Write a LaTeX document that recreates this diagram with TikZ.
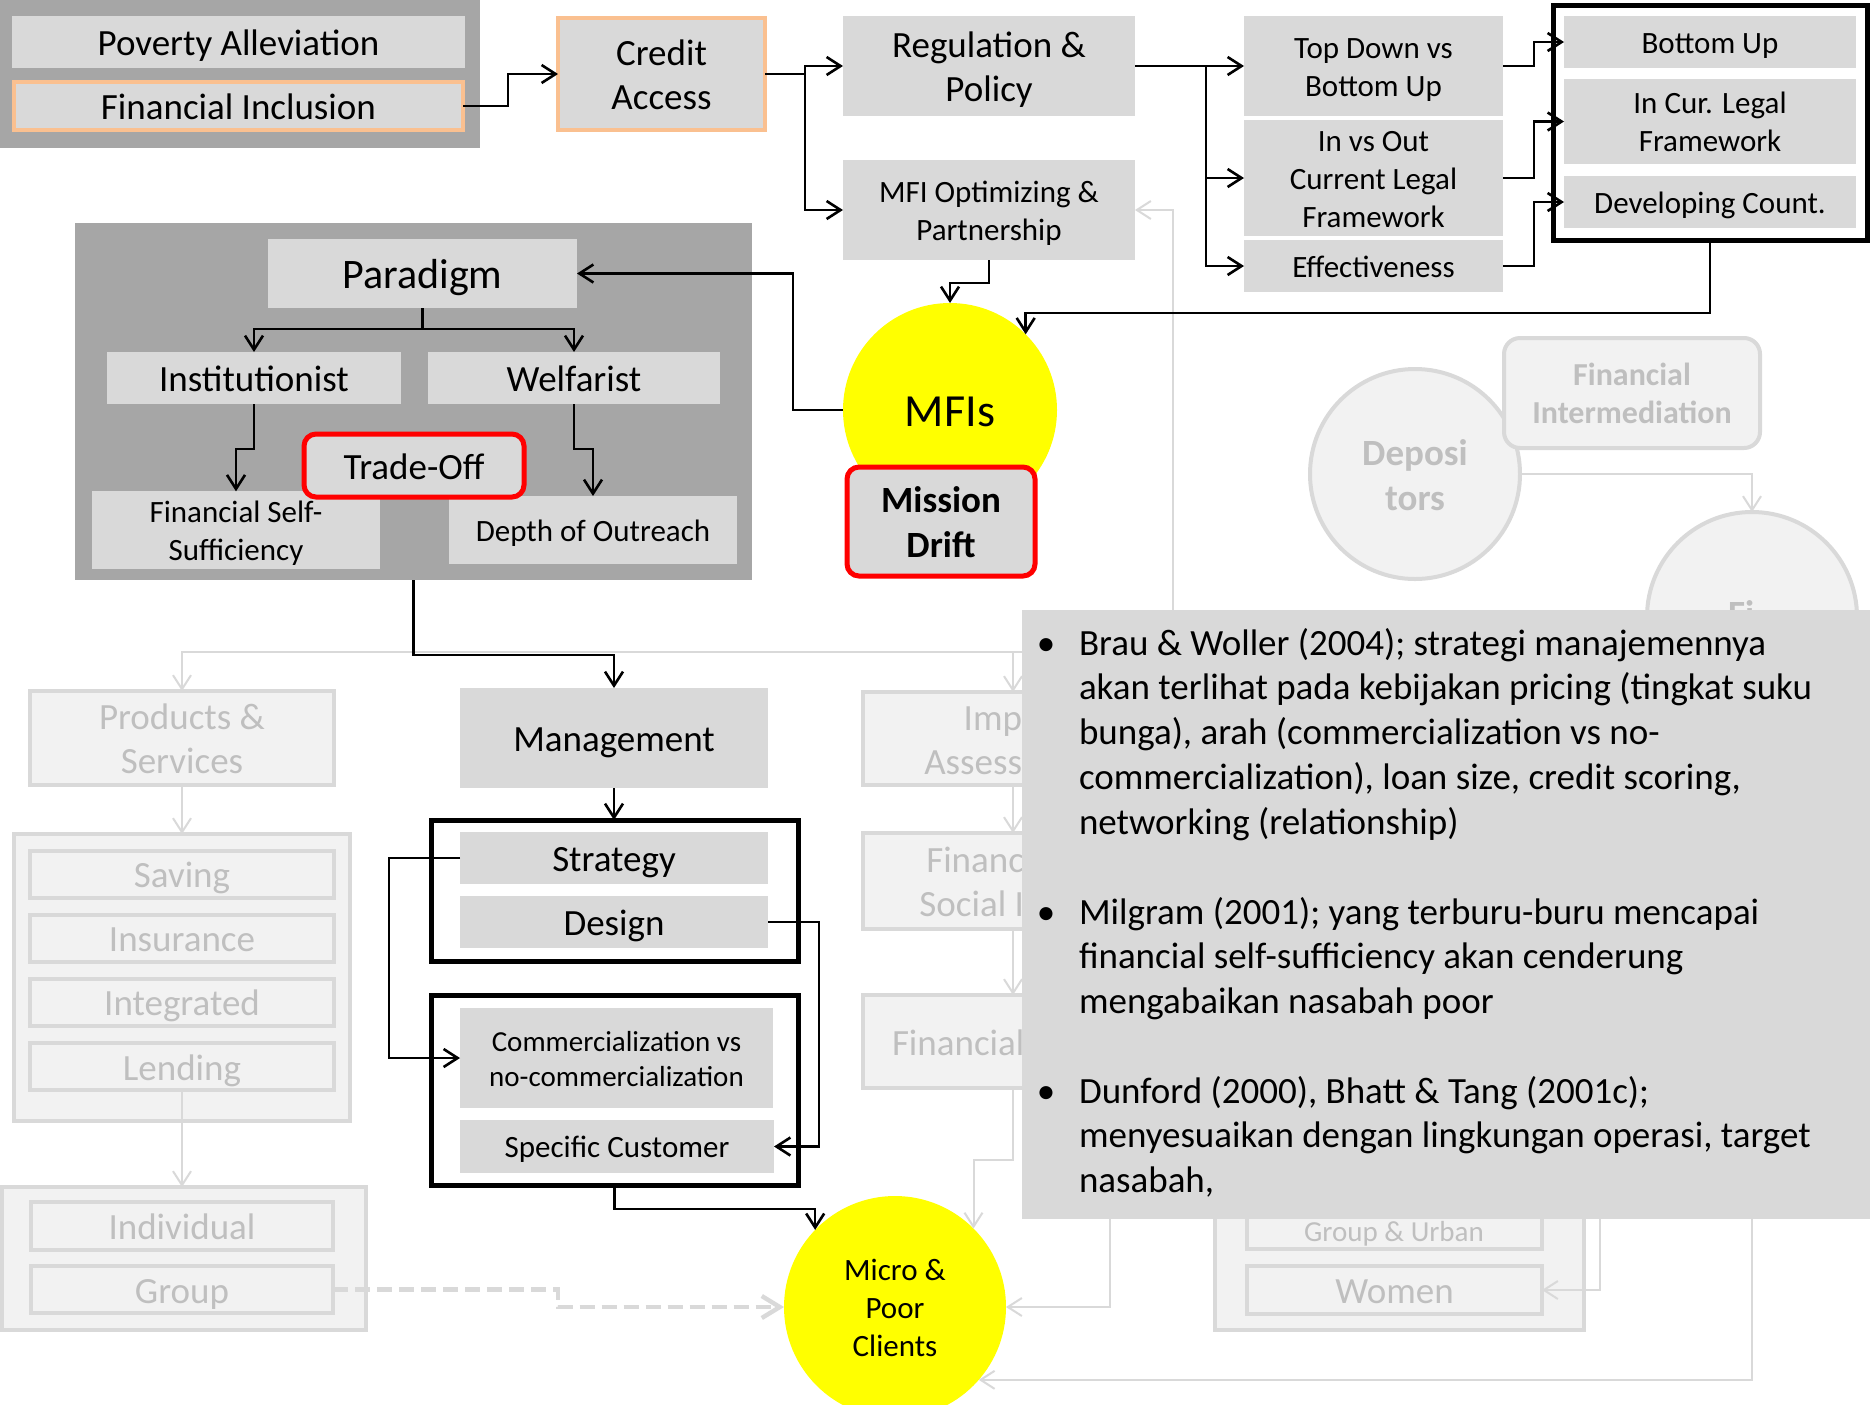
\documentclass[tikz,border=0pt]{standalone}
\usepackage{fontspec}
\setmainfont{Carlito}
\usetikzlibrary{arrows.meta}

\definecolor{darkbox}{HTML}{A6A6A6}
\definecolor{lightbox}{HTML}{D9D9D9}
\definecolor{fadefill}{HTML}{F2F2F2}
\definecolor{fadeline}{HTML}{D9D9D9}
\definecolor{fadetext}{HTML}{BFBFBF}
\definecolor{peach}{HTML}{FAC090}
\definecolor{mfiyellow}{HTML}{FFFF00}
\definecolor{alertred}{HTML}{FF0000}

% box from its corner coordinates: name, style, x1, y1, x2, y2, text
\newcommand\boxat[7]{%
  \pgfmathsetmacro\bxcx{(#3+#5)/2}%
  \pgfmathsetmacro\bxcy{(#4+#6)/2}%
  \pgfmathsetmacro\bxw{(#5-#3)/2}%
  \pgfmathsetmacro\bxh{(#6-#4)/2}%
  \node[#2,minimum width=\bxw pt,minimum height=\bxh pt] (#1) at (\bxcx,\bxcy) {#7};%
}
% full-height first line for stacked labels
\newcommand\firststrut{\rule{0pt}{1em}}

\tikzset{
  every node/.style={inner sep=0pt, outer sep=0pt, align=center},
  fsA/.style={font=\fontsize{18.5pt}{22pt}\selectfont, text depth=5pt},
  fsAb/.style={font=\fontsize{18.5pt}{22.5pt}\selectfont\bfseries, text depth=5pt},
  fsB/.style={font=\fontsize{15.5pt}{19pt}\selectfont, text depth=4.2pt},
  fsC/.style={font=\fontsize{14.5pt}{17.5pt}\selectfont, text depth=3.9pt},
  fsIb/.style={font=\fontsize{16pt}{19pt}\selectfont\bfseries, text depth=4.3pt},
  % single-line labels: fixed line box so the text sits as in a slide text frame
  fsA1/.style={fsA, text height=18.5pt},
  fsB1/.style={fsB, text height=15.5pt},
  fsC1/.style={fsC, text height=14.5pt},
  fsP1/.style={font=\fontsize{21pt}{25pt}\selectfont, text height=21pt, text depth=5.7pt},
  fsM1/.style={font=\fontsize{23pt}{27pt}\selectfont, text height=23pt, text depth=6.2pt},
  notefont/.style={font=\fontsize{18.5pt}{22.4pt}\selectfont},
  panel/.style={fill=darkbox},
  tile/.style={fill=lightbox},
  peachtile/.style={fill=lightbox, draw=peach, line width=2pt},
  alerttile/.style={fill=lightbox, draw=alertred, line width=2.5pt, rounded corners=6pt},
  frame/.style={draw=black, line width=2.5pt},
  ghost/.style={fill=fadefill, draw=fadeline, line width=2pt, text=fadetext},
  ghostcircle/.style={circle, fill=fadefill, draw=fadeline, line width=2pt, text=fadetext, minimum size=105pt},
  plain/.style={draw=black, line width=1.3pt},
  link/.style={draw=black, line width=1.3pt, -{Straight Barb[length=7pt,width=9pt]}},
  ghostlink/.style={draw=fadeline, line width=1pt, -{Straight Barb[length=7pt,width=9pt]}},
  ghostdash/.style={draw=fadeline, line width=2.2pt, dash pattern=on 7.5pt off 3.5pt,
                    -{Straight Barb[length=9pt,width=11pt]}},
}

\begin{document}
\begin{tikzpicture}[x=0.5pt,y=-0.5pt]
\useasboundingbox (0,0) rectangle (1874,1404);
\fill[white] (0,0) rectangle (1874,1404);

% ---------- faded background branches ----------
\coordinate (ghostjoin) at (1173,652);
\boxat{products}{ghost,fsA}{30}{691}{334}{785}{\firststrut Products \&\\Services}
\boxat{productlist}{ghost}{14}{834}{350}{1121}{}
\boxat{saving}{ghost,fsA1}{30}{851}{334}{897}{Saving}
\boxat{insurance}{ghost,fsA1}{30}{915}{334}{961}{Insurance}
\boxat{integrated}{ghost,fsA1}{30}{979}{334}{1025}{Integrated}
\boxat{lending}{ghost,fsA1}{30}{1043}{334}{1090}{Lending}
\boxat{lendmode}{ghost}{2}{1187}{366}{1330}{}
\boxat{individual}{ghost,fsA1}{31}{1202}{333}{1250}{Individual}
\boxat{group}{ghost,fsA1}{31}{1266}{333}{1313}{Group}

\boxat{impact}{ghost}{863}{692}{1163}{785}{}
\node[fsA, text=fadetext, align=right, anchor=east] (impactlabel) at (1022,738.5) {\firststrut Imp\\Assess};
\boxat{socialimpact}{ghost}{863}{833}{1163}{929}{}
\node[fsA, text=fadetext, align=right, anchor=east] (sociallabel) at (1024,881) {\firststrut Financ\\Social I};
\boxat{finperf}{ghost}{863}{995}{1163}{1088}{}
\node[fsA1, text=fadetext, anchor=west] (finperflabel) at (892,1041.5) {Financial};

\node[ghostcircle, fsAb] (depositors) at (1415,474) {\firststrut Deposi\\tors};
\boxat{intermediation}{ghost,rounded corners=8pt,fsIb}{1504}{338}{1760}{448}{\firststrut Financial\\Intermediation}
\node[ghostcircle] (fi) at (1752,617) {};
\node[fsAb, text depth=0pt, text=fadetext, anchor=base west] (filabel) at (1728,626) {Fi};

\boxat{segments}{ghost}{1215}{1150}{1584}{1330}{}
\boxat{urban}{ghost}{1247}{1150}{1542}{1249}{}
\node[fsC1, text=fadetext] (urbanlabel) at (1394,1231) {Group \& Urban};
\boxat{women}{ghost,fsA1}{1247}{1266}{1542}{1314}{Women}
\coordinate (segfeed) at (1600,1150);
\coordinate (clientfeed) at (1110,1150);

% ---------- clients ----------
\node[circle, fill=mfiyellow, minimum size=111pt, fsB] (clients) at (895,1307) {\firststrut Micro \&\\Poor\\Clients};

% faded connectors
\draw[ghostlink] (ghostjoin) -| (products.north);
\draw[ghostlink] (impact.north |- ghostjoin) -- (impact.north);
\draw[ghostlink] (ghostjoin) |- (1135,210);
\draw[ghostlink] (products.south) -- (products.south |- productlist.north);
\draw[ghostlink] (lending.south) -- (lending.south |- lendmode.north);
\draw[ghostlink] (impact.south) -- (socialimpact.north);
\draw[ghostlink] (socialimpact.south) -- (finperf.north);
\draw[ghostlink] (finperf.south) -- ++(0,72) -| (clients.45);
\draw[ghostlink] (depositors.east) -| (fi.north);
\draw[ghostlink] (fi.south) |- (clients.-41);
\draw[ghostlink] (segfeed) |- (women.east);
\draw[ghostlink] (segfeed |- urban.east) -- (urban.east);
\draw[ghostlink] (clientfeed) |- (clients.east);
\draw[ghostdash] (group.east) -- ++(225,0) |- (clients.west);

% ---------- top row ----------
\boxat{topgroup}{panel}{0}{0}{480}{148}{}
\boxat{poverty}{tile,fsA1}{12}{16}{465}{68}{Poverty Alleviation}
\boxat{inclusion}{peachtile,fsA1}{14}{82}{463}{130}{Financial Inclusion}
\boxat{credit}{peachtile,fsA}{558}{18}{765}{130}{\firststrut Credit\\Access}
\boxat{regulation}{tile,fsA}{843}{16}{1135}{116}{\firststrut Regulation \&\\Policy}
\boxat{optimizing}{tile,fsB}{843}{160}{1135}{260}{\firststrut MFI Optimizing \&\\Partnership}
\boxat{topdown}{tile,fsB}{1244}{16}{1503}{116}{\firststrut Top Down vs\\Bottom Up}
\boxat{inout}{tile,fsB}{1244}{128}{1503}{228}{\firststrut In vs Out\\Current Legal\\Framework}
\boxat{effect}{tile,fsB1}{1244}{240}{1503}{292}{Effectiveness}
\boxat{legalframe}{frame}{1553}{5}{1867}{240}{}
\boxat{bottomup}{tile,fsB1}{1564}{16}{1856}{68}{Bottom Up}
\boxat{curlegal}{tile,fsB}{1564}{79}{1856}{164}{\firststrut In Cur. Legal\\Framework}
\boxat{developing}{tile,fsB1}{1564}{176}{1856}{228}{Developing Count.}

% ---------- paradigm panel ----------
\boxat{paradigmpanel}{panel}{75}{223}{752}{580}{}
\boxat{paradigm}{tile,fsP1}{268}{239}{577}{308}{Paradigm}
\boxat{institutionist}{tile,fsA1}{107}{352}{401}{404}{Institutionist}
\boxat{welfarist}{tile,fsA1}{428}{352}{720}{404}{Welfarist}
\boxat{selfsuff}{tile,fsB}{92}{496}{380}{564}{\firststrut Financial Self-\\Sufficiency}
\boxat{outreach}{tile,fsB1}{449}{496}{737}{564}{Depth of Outreach}
\boxat{tradeoff}{alerttile,fsA1}{304}{434}{524}{497}{Trade-Off}

% ---------- MFIs ----------
\node[circle, fill=mfiyellow, minimum size=107pt, fsM1] (mfis) at (950,410) {MFIs};
\boxat{drift}{alerttile,fsAb}{847}{467}{1035}{576}{\firststrut Mission\\Drift}

% ---------- management ----------
\boxat{management}{tile,fsA1}{460}{688}{768}{788}{Management}
\boxat{planframe}{frame}{431}{820}{798}{961}{}
\boxat{strategy}{tile,fsA1}{460}{832}{768}{884}{Strategy}
\boxat{design}{tile,fsA1}{460}{896}{768}{948}{Design}
\boxat{targetframe}{frame}{431}{995}{798}{1185}{}
\boxat{commercial}{tile,fsC}{460}{1008}{773}{1108}{\firststrut Commercialization vs\\no-commercialization}
\boxat{customer}{tile,fsB1}{460}{1120}{774}{1173}{Specific Customer}

% ---------- connectors ----------
\draw[link] (inclusion.east) -- ++(45,0) |- (credit.west);
\draw[plain] (credit.east) -- ++(40,0) coordinate (cfork);
\draw[link] (cfork) |- (regulation.west);
\draw[link] (cfork) |- (optimizing.west);
\draw[plain] (regulation.east) -- ++(71,0) coordinate (rfork);
\draw[link] (rfork) -- (topdown.west);
\draw[link] (rfork) |- (inout.west);
\draw[link] (rfork) |- (effect.west);
\draw[link] (topdown.east) -- ++(31,0) |- (bottomup.west);
\draw[link] (inout.east) -- ++(31,0) |- (curlegal.west);
\draw[link] (effect.east) -- ++(31,0) |- (developing.west);
\draw[link] (legalframe.south) -- ++(0,73) -| (mfis.45);
\draw[link] (optimizing.south) -- ++(0,23) -| (mfis.north);
\draw[link] (mfis.west) -- ++(-50,0) |- (paradigm.east);

\draw[plain] (paradigm.south) -- ++(0,21) coordinate (pfork);
\draw[link] (pfork) -| (institutionist.north);
\draw[link] (pfork) -| (welfarist.north);
\draw[link] (institutionist.south) -- ++(0,45) -| (selfsuff.north);
\draw[link] (welfarist.south) -- ++(0,45) -| (outreach.north);
\draw[link] (paradigmpanel.south) -- ++(0,75) -| (management.north);

\draw[link] (management.south) -- (management.south |- planframe.north);
\draw[link] (strategy.west) -- ++(-71,0) |- (commercial.west);
\draw[link] (design.east) -- ++(51,0) |- (customer.east);
\draw[link] (targetframe.south) -- ++(0,24) -| (clients.136);

% ---------- notes panel ----------
% multi-line nodes: the base anchor is the baseline of the last line
\boxat{notes}{fill=lightbox}{1022}{610}{1870}{1219}{}
\node[notefont, anchor=base] (bulleta) at (1046,655) {•};
\node[notefont, anchor=base west, align=left] (notea) at (1079,834.2)
  {Brau \& Woller (2004); strategi manajemennya\\akan terlihat pada kebijakan pricing (tingkat suku\\bunga), arah (commercialization vs no-\\commercialization), loan size, credit scoring,\\networking (relationship)};
\node[notefont, anchor=base] (bulletb) at (1046,924) {•};
\node[notefont, anchor=base west, align=left] (noteb) at (1079,1013.6)
  {Milgram (2001); yang terburu-buru mencapai\\financial self-sufficiency akan cenderung\\mengabaikan nasabah poor};
\node[notefont, anchor=base] (bulletc) at (1046,1103) {•};
\node[notefont, anchor=base west, align=left] (notec) at (1079,1192.6)
  {Dunford (2000), Bhatt \& Tang (2001c);\\menyesuaikan dengan lingkungan operasi, target\\nasabah,};
\end{tikzpicture}
\end{document}
